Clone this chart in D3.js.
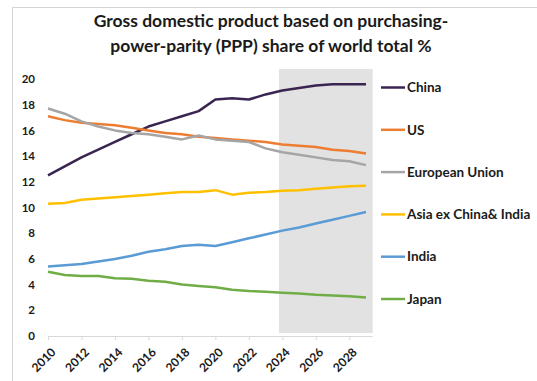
<!DOCTYPE html>
<html>
<head>
<meta charset="utf-8">
<script src="https://cdn.jsdelivr.net/npm/d3@7"></script>
<style>
  body { margin: 0; background: #fff; }
  text { font-family: Lato, "Open Sans", sans-serif; font-weight: bold; fill: #1a1a1a; }
</style>
</head>
<body>
<div id="chart-area"></div>
<script>
// data
var years = d3.range(2010, 2030);
var seriesNames = ["China", "US", "European Union", "Asia ex China& India", "India", "Japan"];
var seriesColors = ["#3a2450", "#ed7d31", "#a5a5a5", "#ffc000", "#5b9bd5", "#70ad47"];

var china = [12.5, 13.2, 13.9, 14.5, 15.1, 15.7, 16.3, 16.7, 17.1, 17.5, 18.4, 18.5, 18.4, 18.8, 19.1, 19.3, 19.5, 19.6, 19.6, 19.6];
var us = [17.1, 16.8, 16.6, 16.5, 16.4, 16.2, 16.0, 15.8, 15.7, 15.5, 15.4, 15.3, 15.2, 15.1, 14.9, 14.8, 14.7, 14.5, 14.4, 14.2];
var eu = [17.7, 17.3, 16.7, 16.3, 16.0, 15.8, 15.7, 15.5, 15.3, 15.6, 15.3, 15.2, 15.1, 14.6, 14.3, 14.1, 13.9, 13.7, 13.6, 13.3];
var asiaEx = [10.3, 10.35, 10.6, 10.7, 10.8, 10.9, 11.0, 11.1, 11.2, 11.2, 11.35, 11.0, 11.15, 11.2, 11.3, 11.35, 11.45, 11.55, 11.65, 11.7];
var india = [5.4, 5.5, 5.6, 5.8, 6.0, 6.25, 6.55, 6.75, 7.0, 7.1, 7.0, 7.3, 7.6, 7.9, 8.2, 8.45, 8.75, 9.05, 9.35, 9.65];
var japan = [5.0, 4.75, 4.67, 4.67, 4.5, 4.45, 4.3, 4.22, 4.0, 3.9, 3.8, 3.6, 3.5, 3.45, 3.37, 3.3, 3.21, 3.15, 3.09, 3.0];
var seriesValues = [china, us, eu, asiaEx, india, japan];

var yTicks = [0, 2, 4, 6, 8, 10, 12, 14, 16, 18, 20];
var xTicks = [2010, 2012, 2014, 2016, 2018, 2020, 2022, 2024, 2026, 2028];
var forecastStart = 2024;

var svg = d3.select("#chart-area")
  .append("svg")
  .attr("width", 537)
  .attr("height", 381);

// outer frame (only left and top edges are visible)
svg.append("path")
  .attr("d", "M12.5,381 V7.5 H537")
  .attr("fill", "none")
  .attr("stroke", "#d4d4d4");

// title
var title = svg.append("text")
  .attr("x", 271)
  .attr("y", 27)
  .attr("text-anchor", "middle")
  .attr("font-size", "17.5px");
title.append("tspan").attr("x", 271).attr("dy", 0).text("Gross domestic product based on purchasing-");
title.append("tspan").attr("x", 271).attr("dy", 25).text("power-parity (PPP) share of world total %");

// Scales
var x = d3.scaleLinear()
  .domain([2010, 2029])
  .range([48, 366]);

var y = d3.scaleLinear()
  .domain([0, 20])
  .range([336, 79]);

// forecast shading
svg.append("rect")
  .attr("x", x(forecastStart - 0.2))
  .attr("y", 69)
  .attr("width", x(2029.4) - x(forecastStart - 0.2))
  .attr("height", 333 - 69)
  .attr("fill", "#e2e2e2");

// X axis
var xAxisGroup = svg.append("g")
  .attr("transform", "translate(0,336)")
  .call(d3.axisBottom(x).tickValues(xTicks).tickFormat(d3.format("d")).tickSize(4).tickSizeOuter(0));

xAxisGroup.select(".domain")
  .attr("d", "M" + x(2010) + ",0.5H" + x(2029.4))
  .attr("stroke", "#d9d9d9");
xAxisGroup.selectAll(".tick line").attr("stroke", "#d9d9d9");
xAxisGroup.selectAll(".tick text")
  .attr("font-size", "12px")
  .attr("text-anchor", "end")
  .attr("fill", "#1a1a1a")
  .attr("transform", "translate(5,14) rotate(-45)")
  .attr("dy", "0.35em")
  .attr("y", 0)
  .attr("x", 0);

// Y axis
var yAxisGroup = svg.append("g")
  .attr("transform", "translate(40,0)")
  .call(d3.axisLeft(y).tickValues(yTicks).tickSize(0).tickPadding(5));
yAxisGroup.select(".domain").remove();
yAxisGroup.selectAll(".tick text")
  .attr("font-size", "11.5px")
  .attr("fill", "#1a1a1a");

// lines
var line = d3.line()
  .x(function(d, i) { return x(years[i]); })
  .y(function(d) { return y(d); });

svg.selectAll(".series")
  .data(seriesValues)
  .enter()
  .append("path")
  .attr("class", "series")
  .attr("d", line)
  .attr("fill", "none")
  .attr("stroke", function(d, i) { return seriesColors[i]; })
  .attr("stroke-width", 2.5)
  .attr("stroke-linejoin", "round");

// legend
var legend = svg.selectAll(".legend")
  .data(seriesNames)
  .enter()
  .append("g")
  .attr("class", "legend")
  .attr("transform", function(d, i) { return "translate(381," + (87.5 + i * 42.3) + ")"; });

legend.append("line")
  .attr("x1", 0)
  .attr("x2", 24)
  .attr("stroke", function(d, i) { return seriesColors[i]; })
  .attr("stroke-width", 2.5);

legend.append("text")
  .attr("x", 26)
  .attr("dy", "0.35em")
  .attr("font-size", "13.5px")
  .text(function(d) { return d; });
</script>
</body>
</html>
